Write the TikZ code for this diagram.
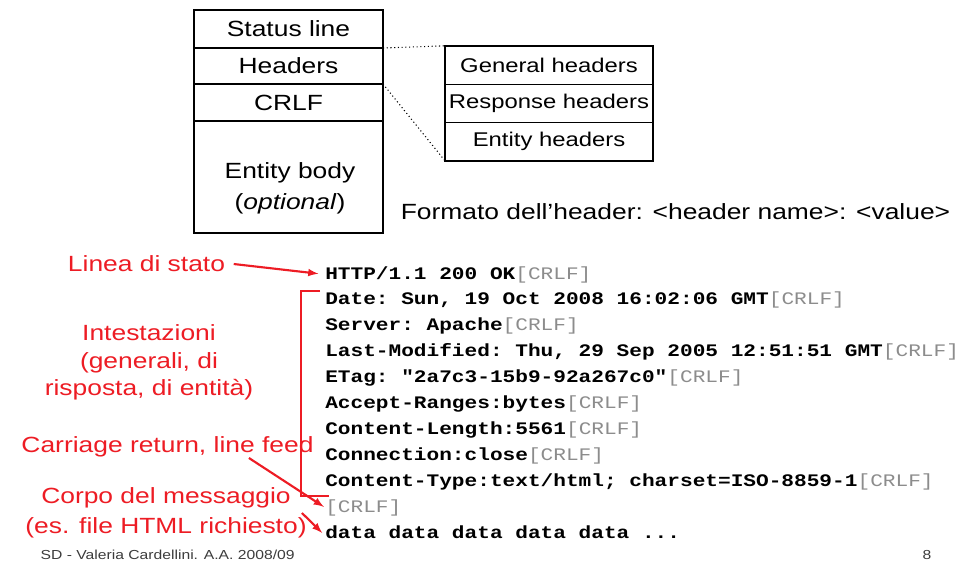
\documentclass[tikz,border=0pt]{standalone}
\usepackage{fontspec}
\setmainfont{Liberation Sans}[FakeStretch=1.2]
\setmonofont{Liberation Mono}[FakeStretch=1.2]
\usepackage{tikz}
\usetikzlibrary{arrows,positioning}

\definecolor{slidered}{RGB}{237,28,36}
\definecolor{crlfgray}{RGB}{140,140,140}
\definecolor{footgray}{RGB}{60,60,60}
\newcommand{\boxfont}{\fontsize{16.5}{23.25}\selectfont}
\newcommand{\codefont}{\fontsize{13.2}{16}\selectfont\ttfamily\bfseries}
\newcommand{\CRLFtag}{\textcolor{crlfgray}{\mdseries[CRLF]}}

\tikzset{
  row/.style={draw, line width=1pt, minimum width=141.75pt, inner sep=0pt, outer sep=0pt, font=\boxfont},
  hrow/.style={draw, line width=1pt, minimum width=156pt, minimum height=28.75pt, inner sep=0pt, outer sep=0pt, font=\fontsize{14.9}{18}\selectfont},
  codeline/.style={anchor=base west, inner sep=0pt, font=\codefont},
  redlabel/.style={text=slidered, align=center},
  redarrow/.style={draw=slidered, line width=1.6pt, -latex},
}

\begin{document}
\begin{tikzpicture}[x=0.75pt,y=-0.75pt]
    \useasboundingbox (0,0) rectangle (973,561);

    \node[row, minimum height=28.5pt] (stat) at (288.5,29) {Status line};
    \node[row, minimum height=27pt, below=0pt of stat] (hdrs) {Headers};
    \node[row, minimum height=27.75pt, below=0pt of hdrs] (crlf) {CRLF};
    \node[row, minimum height=84pt, below=0pt of crlf] (body) {};
    \node[font=\boxfont, align=center] (bodytxt) at (290,188) {Entity body\\(\textit{optional})};

    \node[hrow] (gen) at (549,65) {General headers};
    \node[hrow, below=0pt of gen] (resp) {Response headers};
    \node[hrow, below=0pt of resp] (ent) {Entity headers};
    \draw[dotted, line width=0.8pt] (hdrs.north east) -- (gen.north west);
    \draw[dotted, line width=0.8pt] (hdrs.south east) -- (ent.south west);

    \node[font=\boxfont] (fmt) at (675.5,212) {Formato dell'header: <header name>: <value>};

    \node[codeline] (l1) at (325,279) {HTTP/1.1 200 OK\CRLFtag};
    \node[codeline] (l2) at (325,304.9) {Date: Sun, 19 Oct 2008 16:02:06 GMT\CRLFtag};
    \node[codeline] (l3) at (325,330.8) {Server: Apache\CRLFtag};
    \node[codeline] (l4) at (325,356.7) {Last-Modified: Thu, 29 Sep 2005 12:51:51 GMT\CRLFtag};
    \node[codeline] (l5) at (325,382.6) {ETag: "2a7c3-15b9-92a267c0"\CRLFtag};
    \node[codeline] (l6) at (325,408.5) {Accept-Ranges:bytes\CRLFtag};
    \node[codeline] (l7) at (325,434.4) {Content-Length:5561\CRLFtag};
    \node[codeline] (l8) at (325,460.3) {Connection:close\CRLFtag};
    \node[codeline] (l9) at (325,486.2) {Content-Type:text/html; charset=ISO-8859-1\CRLFtag};
    \node[codeline] (l10) at (325,512.1) {\CRLFtag};
    \node[codeline] (l11) at (325,538) {data data data data data ...};

    \node[redlabel, font=\boxfont] (stato) at (146.5,264) {Linea di stato};
    \node[redlabel, font=\fontsize{16.5}{20.6}\selectfont] (intest) at (149,362.5) {Intestazioni\\(generali, di\\risposta, di entità)};
    \node[redlabel, font=\boxfont] (cr) at (167.5,447) {Carriage return, line feed};
    \node[redlabel, font=\fontsize{16.5}{22.5}\selectfont] (corpo) at (166,513) {Corpo del messaggio\\(es. file HTML richiesto)};

    \draw[slidered, line width=1.6pt] (320,291) -| (301,496) -- (329,496);
    \draw[redarrow, shorten >=5pt] ([xshift=3pt]stato.east) -- (l1.west);
    \draw[redarrow, shorten >=1pt] ([xshift=-52pt,yshift=3pt]cr.south east) -- (l10.west);
    \draw[redarrow, shorten >=3pt] ([xshift=-7pt]corpo.east) -- ([yshift=-3pt]l11.west);

    \node[anchor=west, text=footgray, font=\fontsize{9.8}{12}\selectfont] (foot) at (36,555) {SD - Valeria Cardellini. A.A. 2008/09};
    \node[text=footgray, font=\fontsize{9.8}{12}\selectfont] (page) at (927,555) {8};
\end{tikzpicture}
\end{document}
